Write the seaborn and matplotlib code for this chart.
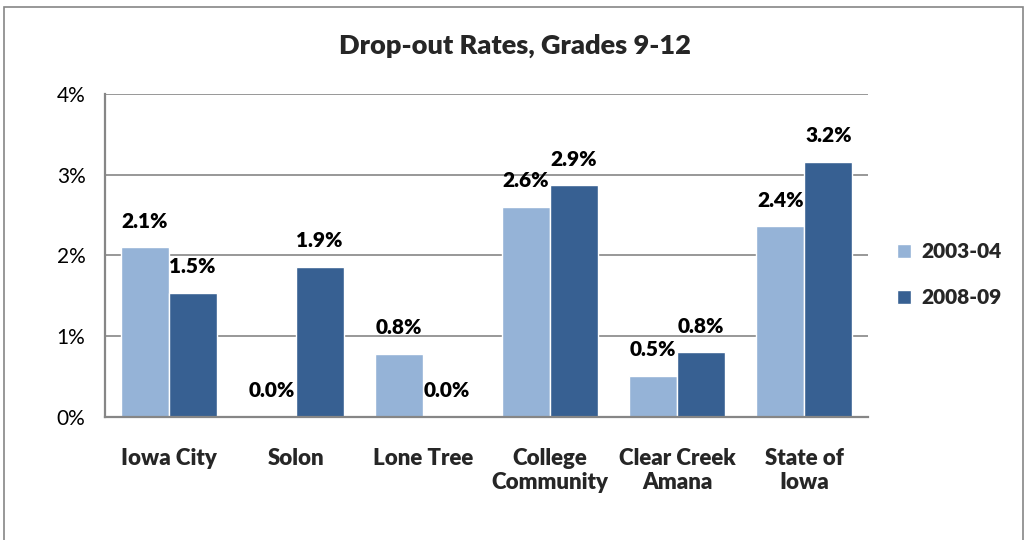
import pandas as pd
import matplotlib.pyplot as plt
import seaborn as sns
from matplotlib.patches import Rectangle

# Drop-out rates by district, two school years
categories = ["Iowa City", "Solon", "Lone Tree", "College\nCommunity",
              "Clear Creek\nAmana", "State of\nIowa"]
years = ["2003-04", "2008-09"]
rate_2003 = [2.10, 0.00, 0.78, 2.60, 0.51, 2.36]
rate_2008 = [1.54, 1.86, 0.00, 2.87, 0.80, 3.16]
yticks = [0, 1, 2, 3, 4]
ytick_labels = ["0%", "1%", "2%", "3%", "4%"]

df = pd.DataFrame({
    "district": categories * 2,
    "year": [years[0]] * len(categories) + [years[1]] * len(categories),
    "rate": rate_2003 + rate_2008,
})

sns.set_theme(style="white")
plt.rcParams["font.family"] = ["Lato", "DejaVu Sans"]
BOLD = 800  # Lato heavy looks closest to Calibri bold

fig = plt.figure(figsize=(10.25, 5.4), dpi=100)
ax = fig.add_axes([0.1024, 0.2278, 0.7444, 0.5982])

sns.barplot(data=df, x="district", y="rate", hue="year", order=categories,
            hue_order=years, palette=["#95B3D7", "#376092"], width=0.755,
            saturation=1, ax=ax)

# value labels above each bar
for cont in ax.containers:
    ax.bar_label(cont, labels=[f"{v:.1f}%" for v in cont.datavalues],
                 padding=12, fontsize=15, fontweight=BOLD, color="black")

ax.set_ylim(0, 4)
ax.set_yticks(yticks)
ax.set_yticklabels(ytick_labels, fontsize=15, color="black")
ax.tick_params(axis="y", length=0, pad=14)
ax.tick_params(axis="x", length=0, pad=22)
for lbl in ax.get_xticklabels():
    lbl.set_fontsize(16)
    lbl.set_fontweight(BOLD)
    lbl.set_linespacing(1.2)
ax.set_xlabel("")
ax.set_ylabel("")
ax.yaxis.grid(True, color="#868686", linewidth=1.2)
ax.set_axisbelow(True)
for side in ["top", "right"]:
    ax.spines[side].set_visible(False)
for side in ["left", "bottom"]:
    ax.spines[side].set_color("#868686")
    ax.spines[side].set_linewidth(1.6)

fig.text(0.502, 0.915, "Drop-out Rates, Grades 9-12", ha="center", va="center",
         fontsize=19.5, fontweight=BOLD)

ax.legend(loc="center left", bbox_to_anchor=(1.013, 0.44), frameon=False,
          prop={"size": 15, "weight": BOLD}, handlelength=0.7,
          handleheight=0.7, handletextpad=0.5, labelspacing=1.3)

# outer chart frame
fig.patches.append(Rectangle((0.004, -0.05), 0.994, 1.037, transform=fig.transFigure,
                             fill=False, edgecolor="#868686", linewidth=1.2))

fig.savefig("out.png", dpi=100)
